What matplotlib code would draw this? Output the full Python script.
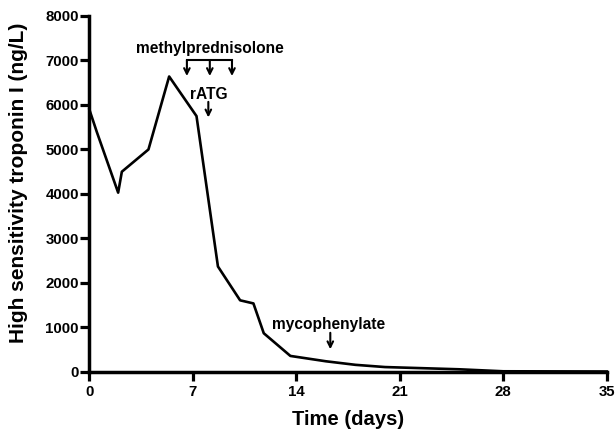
import matplotlib
matplotlib.use("Agg")
import matplotlib.pyplot as plt

plt.rcParams["font.family"] = ["Liberation Sans", "DejaVu Sans"]
plt.rcParams["font.weight"] = "bold"

# troponin time course
days = [0, 0.5, 1.95, 2.2, 4.0, 5.4, 7.25, 8.7, 10.2, 11.1, 11.8, 13.6,
        16, 18, 20, 22, 25, 28, 35]
troponin = [5900, 5400, 4030, 4500, 5000, 6640, 5750, 2370, 1610, 1540, 870, 360,
            240, 160, 110, 90, 60, 15, 10]

# treatment markers (day of dose)
mp_days = [6.6, 8.15, 9.65]
ratg_day = 8.05
myco_day = 16.3

x_ticks = [0, 7, 14, 21, 28, 35]
y_ticks = [0, 1000, 2000, 3000, 4000, 5000, 6000, 7000, 8000]

fig = plt.figure(figsize=(6.16, 4.32), dpi=100)
ax = fig.add_axes([0.145, 0.139, 0.84, 0.824])

ax.plot(days, troponin, color="black", linewidth=1.9, clip_on=False)

arrow = dict(arrowstyle="->", color="black", lw=1.5, shrinkA=0, shrinkB=0)

# methylprednisolone bracket with three arrows
ax.text(mp_days[1], 7260, "methylprednisolone", ha="center", va="center",
        fontsize=11.2, fontweight="bold")
ax.plot([mp_days[0], mp_days[-1]], [7010, 7010], color="black", lw=1.5)
for d in mp_days:
    ax.annotate("", xy=(d, 6650), xytext=(d, 7010), arrowprops=arrow)

ax.text(ratg_day, 6240, "rATG", ha="center", va="center", fontsize=11.2, fontweight="bold")
ax.annotate("", xy=(ratg_day, 5720), xytext=(ratg_day, 6070), arrowprops=arrow)

ax.text(myco_day - 0.15, 1060, "mycophenylate", ha="center", va="center",
        fontsize=11.2, fontweight="bold")
ax.annotate("", xy=(myco_day, 510), xytext=(myco_day, 880), arrowprops=arrow)

ax.set_xlim(0, 35)
ax.set_ylim(0, 8000)
ax.set_xticks(x_ticks)
ax.set_yticks(y_ticks)
ax.tick_params(axis="both", direction="out", length=6.5, width=2.3, labelsize=10.8)
ax.tick_params(axis="y", pad=1)
ax.tick_params(axis="x", pad=3)
for lab in ax.get_xticklabels() + ax.get_yticklabels():
    lab.set_fontweight("bold")

for side in ["top", "right"]:
    ax.spines[side].set_visible(False)
for side in ["left", "bottom"]:
    ax.spines[side].set_linewidth(2.5)

ax.set_xlabel("Time (days)", fontsize=14.6, fontweight="bold", labelpad=8)
ax.set_ylabel("High sensitivity troponin I (ng/L)", fontsize=15, fontweight="bold")
ax.yaxis.set_label_coords(-0.118, 0.53)

fig.savefig("out.png", dpi=100)
